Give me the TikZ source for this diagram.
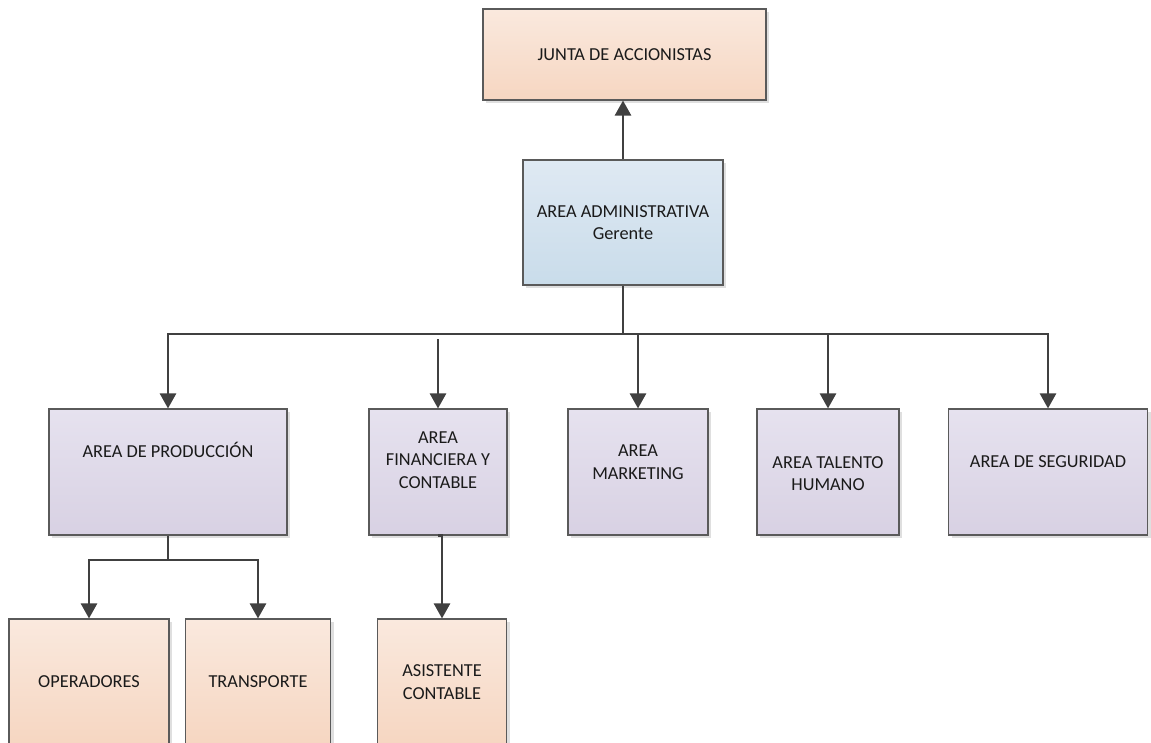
\documentclass[tikz,border=0pt]{standalone}
\usepackage{fontspec}
\setmainfont{Carlito}
\usetikzlibrary{arrows.meta,shadows}

\definecolor{peachTop}{HTML}{FAE9DE}
\definecolor{peachBot}{HTML}{F6D6C1}
\definecolor{blueTop}{HTML}{DFE9F3}
\definecolor{blueBot}{HTML}{C9DCEA}
\definecolor{lilacTop}{HTML}{E6E2EF}
\definecolor{lilacBot}{HTML}{D8D1E3}
\definecolor{edge}{HTML}{5A5A5A}
\definecolor{wire}{HTML}{404040}
\definecolor{ink}{HTML}{1A1A1A}

\tikzset{
  box/.style={draw=edge, line width=1.1pt, inner sep=0pt, align=center,
    text=ink, font=\fontsize{18.3}{22.5}\selectfont,
    drop shadow={shadow xshift=3pt, shadow yshift=-3pt, opacity=0.25, fill=black!50}},
  peach/.style={box, top color=peachTop, bottom color=peachBot},
  bluebox/.style={box, top color=blueTop, bottom color=blueBot},
  lilac/.style={box, top color=lilacTop, bottom color=lilacBot},
  lbl/.style={align=center, text=ink, font=\fontsize{18.3}{22.5}\selectfont},
  wireline/.style={draw=wire, line width=2.5pt},
  arr/.style={wireline, -{Triangle[length=15pt,width=16pt]}},
}

\begin{document}
\begin{tikzpicture}[x=1pt, y=-1pt]
  \useasboundingbox (0,0) rectangle (1151,743);
  \clip (0,0) rectangle (1151,743);
  \fill[white] (0,0) rectangle (1151,743);

  % top levels
  \node[peach, minimum width=283pt, minimum height=91pt] (junta) at (624.5,54.5)
    {JUNTA DE ACCIONISTAS};
  \node[bluebox, minimum width=200pt, minimum height=125pt] (admin) at (623,222.5)
    {AREA ADMINISTRATIVA\\Gerente};

  % areas
  \node[lilac, minimum width=238pt, minimum height=126pt,
        label={[lbl, yshift=22pt]center:AREA DE PRODUCCIÓN}] (prod) at (168,472) {};
  \node[lilac, minimum width=138pt, minimum height=126pt,
        label={[lbl, yshift=12pt]center:AREA\\FINANCIERA Y\\CONTABLE}] (fin) at (438,472) {};
  \node[lilac, minimum width=140pt, minimum height=126pt,
        label={[lbl, yshift=10pt]center:AREA\\MARKETING}] (mkt) at (638,472) {};
  \node[lilac, minimum width=142pt, minimum height=126pt,
        label={[lbl, yshift=-1.5pt]center:AREA TALENTO\\HUMANO}] (tal) at (828,472) {};
  \node[lilac, minimum width=199pt, minimum height=126pt,
        label={[lbl, yshift=10pt]center:AREA DE SEGURIDAD}] (seg) at (1048,472) {};

  % staff
  \node[peach, minimum width=160pt, minimum height=126pt] (oper) at (89,682) {OPERADORES};
  \node[peach, minimum width=145pt, minimum height=126pt] (trans) at (258,682) {TRANSPORTE};
  \node[peach, minimum width=129pt, minimum height=126pt] (asis) at (442,682) {ASISTENTE\\CONTABLE};

  % connectors
  \draw[arr] (admin.north) -- (admin.north |- junta.south);

  \coordinate (bus) at (623,334);
  \draw[wireline] (admin.south) -- (bus);
  \draw[arr] (bus) -| (prod.north);
  \draw[arr] (bus) -| (seg.north);
  \draw[arr] (mkt.north |- bus) -- (mkt.north);
  \draw[arr] (tal.north |- bus) -- (tal.north);
  \coordinate (finTop) at (438,339);
  \draw[arr] (finTop) -- (fin.north);

  \coordinate (prodBus) at (168,560);
  \draw[wireline] (prod.south) -- (prodBus);
  \draw[arr] (prodBus) -| (oper.north);
  \draw[arr] (prodBus) -| (trans.north);

  \draw[arr] (fin.south) -- (fin.south -| asis.north) -- (asis.north);
\end{tikzpicture}
\end{document}
